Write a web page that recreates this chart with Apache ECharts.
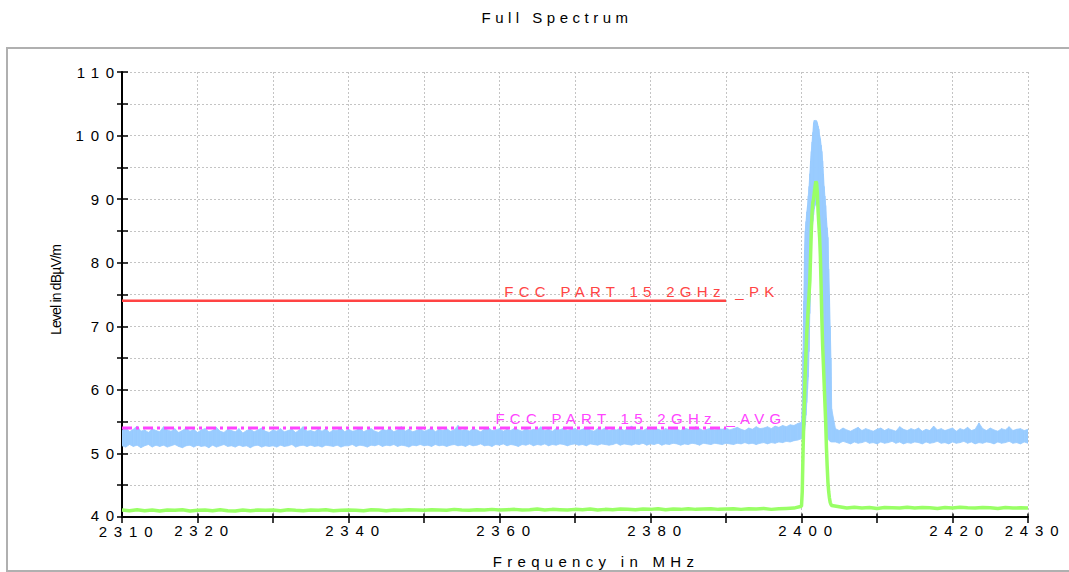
<!DOCTYPE html>
<html>
<head>
<meta charset="utf-8">
<script src="https://cdn.jsdelivr.net/npm/echarts@6.0.0/dist/echarts.min.js"></script>
<style>
html, body { margin: 0; padding: 0; background: #fff; }
#chart { width: 1069px; height: 572px; }
#chart text[style*="Arimo"] { letter-spacing: 6.8px; }
#chart text[style*="Helvetica"] { letter-spacing: 4.5px; }
#chart text[style*="FreeSans"] { letter-spacing: 5.3px; }
#chart text[style*="Arial"] { letter-spacing: -0.8px; }
</style>
</head>
<body>
<div id="chart"></div>
<script>
// ---- texts ----
const TITLE = 'Full Spectrum';
const X_NAME = 'Frequency in MHz';
const Y_NAME = 'Level in dBµV/m';
const PK_LABEL = 'FCC PART 15 2GHz _PK';
const AVG_LABEL = 'FCC PART 15 2GHz _AVG';

// ---- tick labels ----
const xTickLabels = [2310, 2320, 2340, 2360, 2380, 2400, 2420, 2430];
const yTickLabels = [40, 50, 60, 70, 80, 90, 100, 110];

// ---- peak trace (blue): lower / upper envelope of the noisy trace ----
// 2310 .. 2400 MHz, 0.5 MHz bins
const peakLeftStart = 2310, peakLeftStep = 0.5;
const peakLeftHi = [
  53.6, 54.1, 53.4, 53.8, 54.3, 53.5, 53.7, 53.3, 53.9, 53.6,
  53.4, 54.2, 53.7, 53.5, 53.9, 53.3, 53.6, 54.0, 53.5, 53.8,
  53.3, 53.7, 53.9, 53.4, 53.6, 54.1, 53.5, 53.3, 53.8, 53.6,
  53.4, 53.9, 53.2, 53.6, 53.8, 53.4, 53.7, 54.0, 53.5, 53.3,
  53.7, 53.5, 53.9, 53.4, 53.6, 53.8, 53.3, 53.7, 54.2, 53.5,
  53.6, 53.4, 53.8, 53.5, 53.9, 53.3, 53.7, 53.6, 54.0, 53.4,
  53.8, 53.5, 53.6, 54.1, 53.4, 53.7, 53.9, 53.5, 53.3, 53.8,
  53.6, 53.9, 53.4, 53.7, 54.2, 53.5, 53.8, 53.4, 53.6, 53.9,
  53.5, 53.7, 54.0, 53.4, 53.8, 53.6, 53.9, 53.5, 53.7, 54.4,
  53.6, 53.8, 53.5, 53.9, 53.7, 53.4, 53.8, 54.1, 53.6, 53.7,
  53.9, 53.5, 53.8, 53.6, 54.0, 53.7, 53.5, 53.9, 53.6, 53.8,
  53.7, 54.2, 53.6, 53.8, 53.5, 53.9, 53.7, 54.0, 53.6, 53.8,
  53.9, 53.6, 53.8, 54.1, 53.7, 53.5, 53.9, 53.7, 54.0, 53.6,
  53.8, 53.7, 54.0, 53.6, 53.9, 54.3, 53.7, 53.8, 53.6, 53.9,
  53.7, 54.0, 53.8, 53.6, 53.9, 53.7, 54.1, 53.8, 53.6, 54.0,
  53.8, 53.7, 54.2, 53.9, 53.6, 53.8, 54.0, 53.7, 53.9, 53.8,
  54.0, 53.7, 53.9, 54.1, 53.8, 53.6, 54.0, 53.8, 54.2, 53.9,
  54.0, 54.2, 53.9, 54.3, 54.1, 54.4, 54.2, 54.5, 54.4, 54.7,
  54.9
];
const peakLeftLo = [
  51.2, 51.0, 51.4, 51.1, 51.3, 50.9, 51.2, 51.4, 51.0, 51.3,
  51.1, 51.3, 51.0, 51.2, 51.4, 51.1, 50.9, 51.2, 51.3, 51.0,
  51.3, 51.1, 51.2, 50.9, 51.3, 51.0, 51.2, 51.4, 51.1, 51.2,
  51.0, 51.3, 51.1, 51.2, 50.9, 51.2, 51.3, 51.0, 51.2, 51.1,
  51.2, 51.0, 51.3, 51.1, 51.2, 51.4, 51.0, 51.2, 51.3, 51.1,
  51.3, 51.1, 51.2, 51.0, 51.3, 51.2, 51.1, 51.3, 51.0, 51.2,
  51.2, 51.4, 51.1, 51.3, 51.2, 51.0, 51.3, 51.2, 51.4, 51.1,
  51.3, 51.2, 51.4, 51.1, 51.3, 51.2, 51.0, 51.3, 51.2, 51.4,
  51.2, 51.3, 51.1, 51.4, 51.2, 51.3, 51.1, 51.3, 51.4, 51.2,
  51.3, 51.1, 51.4, 51.2, 51.3, 51.5, 51.2, 51.3, 51.1, 51.4,
  51.3, 51.5, 51.2, 51.4, 51.3, 51.1, 51.4, 51.3, 51.5, 51.2,
  51.4, 51.3, 51.5, 51.2, 51.4, 51.3, 51.5, 51.4, 51.2, 51.4,
  51.5, 51.3, 51.4, 51.2, 51.5, 51.4, 51.3, 51.5, 51.4, 51.3,
  51.4, 51.6, 51.3, 51.5, 51.4, 51.3, 51.5, 51.4, 51.6, 51.3,
  51.5, 51.4, 51.6, 51.3, 51.5, 51.4, 51.6, 51.5, 51.3, 51.5,
  51.4, 51.6, 51.5, 51.3, 51.6, 51.5, 51.4, 51.6, 51.5, 51.4,
  51.6, 51.5, 51.4, 51.6, 51.5, 51.7, 51.5, 51.6, 51.4, 51.6,
  51.7, 51.5, 51.7, 51.6, 51.8, 51.7, 51.9, 51.8, 52.0, 52.1,
  52.3
];
// carrier, 0.1 MHz bins
const peakMidFreq = [
  2400.1, 2400.2, 2400.3, 2400.4, 2400.5, 2400.6, 2400.7, 2400.8, 2400.9, 2401.0,
  2401.1, 2401.2, 2401.3, 2401.4, 2401.5, 2401.6, 2401.7, 2401.8, 2401.9, 2402.0,
  2402.1, 2402.2, 2402.3, 2402.4, 2402.5, 2402.6, 2402.7, 2402.8, 2402.9, 2403.0,
  2403.1, 2403.2, 2403.3, 2403.4, 2403.5, 2403.6, 2403.7, 2403.8, 2403.9, 2404.0
];
const peakMidHi = [
  57.0, 66.0, 74.0, 82.0, 85.0, 86.5, 88.0, 89.0, 90.5, 92.0,
  94.0, 96.0, 97.5, 99.0, 100.5, 102.0, 102.4, 102.2, 102.4, 102.3,
  102.0, 101.5, 101.0, 100.0, 99.5, 98.5, 97.5, 96.0, 94.0, 92.0,
  90.5, 89.0, 87.0, 85.5, 84.0, 79.0, 75.0, 70.0, 65.0, 57.0
];
const peakMidLo = [
  52.5, 52.8, 53.0, 53.5, 54.5, 56.0, 58.0, 60.0, 62.0, 66.0,
  72.0, 77.0, 83.0, 85.0, 86.5, 87.5, 88.5, 89.0, 89.5, 89.5,
  89.0, 88.5, 87.0, 86.0, 85.0, 84.0, 80.0, 76.0, 72.0, 66.5,
  61.0, 56.0, 54.0, 53.0, 52.5, 52.2, 52.0, 51.9, 51.8, 51.8
];
// 2404.5 .. 2430 MHz, 0.5 MHz bins
const peakRightStart = 2404.5, peakRightStep = 0.5;
const peakRightHi = [
  53.9, 53.6, 54.0, 53.7, 53.5, 53.8, 54.1, 53.6, 53.9, 53.7,
  53.5, 53.8, 54.0, 53.6, 53.9, 53.7, 53.5, 54.2, 53.8, 53.6,
  53.9, 53.7, 54.0, 53.5, 53.8, 53.6, 54.3, 53.7, 53.9, 53.6,
  53.8, 54.0, 53.5, 53.9, 53.7, 54.1, 53.6, 53.8, 54.8, 53.9,
  53.6, 54.0, 53.7, 53.5, 53.9, 53.7, 54.2, 53.6, 53.8, 53.9,
  53.6, 53.8
];
const peakRightLo = [
  51.8, 51.6, 51.9, 51.7, 51.5, 51.8, 51.6, 51.7, 51.9, 51.6,
  51.7, 51.5, 51.8, 51.6, 51.7, 51.9, 51.6, 51.8, 51.5, 51.7,
  51.6, 51.8, 51.7, 51.5, 51.8, 51.6, 51.7, 51.9, 51.6, 51.7,
  51.5, 51.8, 51.6, 51.7, 51.9, 51.6, 51.8, 51.5, 51.7, 51.6,
  51.8, 51.7, 51.5, 51.8, 51.6, 51.7, 51.9, 51.6, 51.7, 51.5,
  51.8, 51.6
];

// ---- average trace (green) ----
const avgLeftStart = 2310, avgLeftStep = 1;
const avgLeft = [
  41.1, 41.0, 41.15, 41.0, 41.1, 40.95, 41.1, 41.05, 41.15, 40.95,
  41.05, 41.1, 41.0, 41.15, 41.0, 40.95, 41.1, 41.0, 41.1, 41.05,
  41.1, 41.0, 41.15, 41.05, 41.0, 41.1, 41.05, 41.15, 41.0, 41.05,
  41.1, 41.05, 41.0, 41.15, 41.1, 41.0, 41.1, 41.05, 41.15, 41.1,
  41.05, 41.15, 41.1, 41.05, 41.2, 41.1, 41.05, 41.15, 41.1, 41.2,
  41.1, 41.15, 41.2, 41.1, 41.15, 41.25, 41.1, 41.2, 41.15, 41.1,
  41.2, 41.15, 41.25, 41.1, 41.2, 41.15, 41.25, 41.2, 41.15, 41.25,
  41.2, 41.3, 41.15, 41.25, 41.2, 41.3, 41.2, 41.25, 41.3, 41.2,
  41.25, 41.3, 41.2, 41.3, 41.25, 41.35, 41.2, 41.3, 41.35, 41.4,
  41.7
];
const avgMid = [
  44.0, 50.0, 55.0, 59.0, 63.0, 66.0, 69.0, 71.0, 73.0, 75.0,
  77.0, 81.0, 85.0, 88.0, 89.5, 90.0, 91.0, 92.0, 92.8, 92.5,
  91.0, 88.0, 86.0, 84.0, 81.0, 76.0, 71.0, 67.0, 64.0, 61.0,
  58.0, 55.0, 51.0, 48.0, 45.5, 44.0, 43.0, 42.3, 42.0, 41.8
];
const avgRightStart = 2405, avgRightStep = 1;
const avgRight = [
  41.6, 41.4, 41.55, 41.4, 41.5, 41.35, 41.5, 41.45, 41.4, 41.55,
  41.4, 41.5, 41.45, 41.35, 41.5, 41.4, 41.55, 41.45, 41.4, 41.5,
  41.45, 41.35, 41.5, 41.4, 41.45, 41.4
];

// ---- limit lines ----
const pkLimitFreq = [2310, 2390];
const pkLimitLevel = [74, 74];
const avgLimitFreq = [2310, 2390];
const avgLimitLevel = [54, 54];

// ---- build point lists ----
function sweepFreq(start, step, n) {
  const out = [];
  for (let i = 0; i < n; i++) out.push(+(start + i * step).toFixed(2));
  return out;
}
const peakFreq = [].concat(
  sweepFreq(peakLeftStart, peakLeftStep, peakLeftLo.length),
  peakMidFreq,
  sweepFreq(peakRightStart, peakRightStep, peakRightLo.length)
);
const peakLo = [].concat(peakLeftLo, peakMidLo, peakRightLo);
const peakHi = [].concat(peakLeftHi, peakMidHi, peakRightHi);
const peakBandData = peakFreq.map((f, i) => [f, peakLo[i], peakHi[i]]);

const avgFreq = [].concat(
  sweepFreq(avgLeftStart, avgLeftStep, avgLeft.length),
  peakMidFreq,
  sweepFreq(avgRightStart, avgRightStep, avgRight.length)
);
const avgLevel = [].concat(avgLeft, avgMid, avgRight);
const avgData = avgFreq.map((f, i) => [f, avgLevel[i]]);

function zip(f, l) { return f.map((x, i) => [x, l[i]]); }

const FONT_NUM = 'Liberation Sans, Arimo';
const FONT_TITLE = 'Liberation Sans, Helvetica';
const FONT_TXT = 'Liberation Sans, FreeSans';
const FONT_NARROW = 'Liberation Sans, Arial';

const BLUE = '#99CCFF', GREEN = '#99FF66', RED = '#FF4444', MAGENTA = '#FF44FF';
const gridLine = { show: true, lineStyle: { color: '#c4c4c4', width: 1, type: [2, 2] } };

// band segment between two neighbouring bins, placed through the axes
function renderBand(params, api) {
  const i = params.dataIndexInside;
  if (i >= params.dataInsideLength - 1) return null;
  const f0 = api.value(0, i), lo0 = api.value(1, i), hi0 = api.value(2, i);
  const f1 = api.value(0, i + 1), lo1 = api.value(1, i + 1), hi1 = api.value(2, i + 1);
  const pts = [api.coord([f0, lo0]), api.coord([f1, lo1]), api.coord([f1, hi1]), api.coord([f0, hi0])];
  return {
    type: 'polygon', silent: true,
    shape: { points: pts },
    style: { fill: BLUE, stroke: BLUE, lineWidth: 0.8 }
  };
}

const numStyle = { fontSize: 15, fontFamily: FONT_NUM, color: '#000' };

const chart = echarts.init(document.getElementById('chart'), null, { renderer: 'svg' });
chart.setOption({
  animation: false,
  backgroundColor: '#fff',
  graphic: [
    { type: 'rect', silent: true, z: -10,
      shape: { x: 7, y: 48, width: 1100, height: 523 },
      style: { fill: 'none', stroke: '#b0b0b0', lineWidth: 2 } },
    { type: 'text', silent: true, x: 557, y: 17.5,
      style: { text: TITLE, fontSize: 15, fontFamily: FONT_TITLE, fill: '#000',
               align: 'center', verticalAlign: 'middle' } }
  ],
  grid: { left: 122, right: 41, top: 72, bottom: 55, containLabel: false, outerBoundsMode: 'none' },
  xAxis: [{
    type: 'value', min: 2310, max: 2430, interval: 10, position: 'bottom',
    name: X_NAME, nameLocation: 'middle', nameGap: 37,
    nameTextStyle: { fontSize: 15, fontFamily: FONT_TXT, color: '#000', padding: [0, 0, 0, 42] },
    axisLine: { show: true, onZero: false, lineStyle: { color: '#000', width: 2 } },
    axisTick: { show: true, length: 6, lineStyle: { color: '#000', width: 1.5 } },
    axisLabel: { margin: 7, lineHeight: 12, padding: [0, 0, 0, 14], ...numStyle,
                 rich: { first: { ...numStyle, lineHeight: 12, padding: [3, 0, 0, 0] } },
                 formatter: v => {
                   const r = Math.round(v);
                   if (!xTickLabels.includes(r)) return '';
                   return r === xTickLabels[0] ? '{first|' + r + '}' : String(r);
                 } },
    splitLine: gridLine
  }, {
    type: 'value', min: 2310, max: 2430, interval: 10, position: 'bottom',
    axisLine: { show: false },
    axisTick: { show: true, inside: true, length: 3.5, lineStyle: { color: '#000', width: 1.5 } },
    axisLabel: { show: false }, splitLine: { show: false }
  }],
  yAxis: [{
    type: 'value', min: 40, max: 110, interval: 5, position: 'left',
    name: Y_NAME, nameLocation: 'middle', nameGap: 59,
    nameTextStyle: { fontSize: 14, fontFamily: FONT_NARROW, color: '#000', padding: [0, 0, 0, 9] },
    axisLine: { show: true, onZero: false, lineStyle: { color: '#000', width: 2 } },
    axisTick: { show: true, length: 5, lineStyle: { color: '#000', width: 1.5 } },
    axisLabel: { margin: 1, lineHeight: 10, ...numStyle,
                 rich: { first: { ...numStyle, lineHeight: 10, padding: [0, 0, 4, 0] } },
                 formatter: v => {
                   const r = Math.round(v);
                   if (!yTickLabels.includes(r)) return '';
                   return r === yTickLabels[0] ? '{first|' + r + '}' : String(r);
                 } },
    splitLine: gridLine
  }, {
    type: 'value', min: 40, max: 110, interval: 5, position: 'left',
    axisLine: { show: false },
    axisTick: { show: true, inside: true, length: 6, lineStyle: { color: '#000', width: 1.5 } },
    axisLabel: { show: false }, splitLine: { show: false }
  }],
  series: [
    { type: 'custom', name: 'Peak', data: peakBandData, renderItem: renderBand, silent: true,
      clip: true, encode: { x: 0, y: [1, 2] }, emphasis: { disabled: true } },
    { type: 'line', name: 'Average', data: avgData, symbol: 'none', silent: true,
      lineStyle: { color: GREEN, width: 3.5 }, emphasis: { disabled: true } },
    { type: 'line', name: PK_LABEL, data: zip(pkLimitFreq, pkLimitLevel), symbol: 'none', silent: true,
      lineStyle: { color: RED, width: 2.5 }, emphasis: { disabled: true },
      markPoint: { symbol: 'circle', symbolSize: 1, silent: true, animation: false,
        itemStyle: { color: 'rgba(0,0,0,0)' },
        data: [{ coord: [pkLimitFreq[1], pkLimitLevel[1]] }],
        label: { show: true, formatter: PK_LABEL, position: [54, -8.5], align: 'right',
                 verticalAlign: 'middle', color: RED, fontSize: 15, fontFamily: FONT_TXT } } },
    { type: 'line', name: AVG_LABEL, data: zip(avgLimitFreq, avgLimitLevel), symbol: 'none', silent: true,
      lineStyle: { color: MAGENTA, width: 3, type: [10, 4, 3, 4] }, emphasis: { disabled: true },
      markPoint: { symbol: 'circle', symbolSize: 1, silent: true, animation: false,
        itemStyle: { color: 'rgba(0,0,0,0)' },
        data: [{ coord: [avgLimitFreq[1], avgLimitLevel[1]] }],
        label: { show: true, formatter: AVG_LABEL, position: [61, -9], align: 'right',
                 verticalAlign: 'middle', color: MAGENTA, fontSize: 15, fontFamily: FONT_TXT } } }
  ]
});
</script>
</body>
</html>
